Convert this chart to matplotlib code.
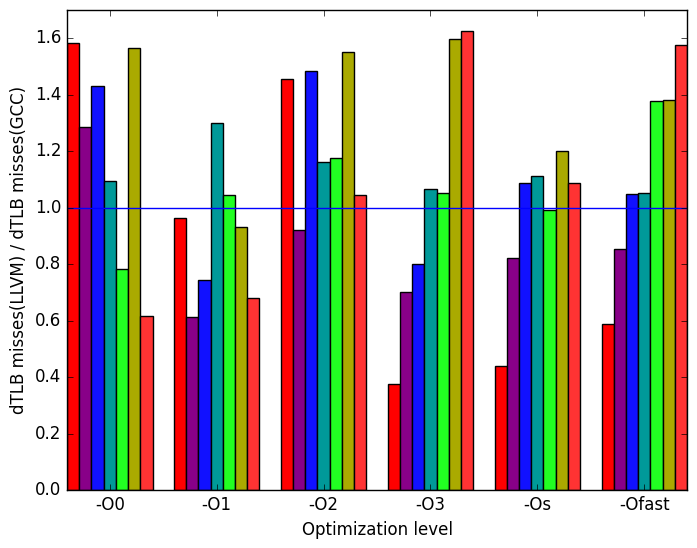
import numpy as np
import matplotlib
matplotlib.use('Agg')
import matplotlib.pyplot as plt

plt.style.use('classic')

levels = ['-O0', '-O1', '-O2', '-O3', '-Os', '-Ofast']
colors = ['#ff0000', '#880088', '#1111ff', '#009999', '#22ff22', '#aaaa00', '#ff3333']

# one list per benchmark (bar colour), values per optimization level
ratios = [
    [1.582, 0.962, 1.454, 0.375, 0.439, 0.588],
    [1.284, 0.613, 0.922, 0.702, 0.820, 0.852],
    [1.429, 0.744, 1.483, 0.799, 1.086, 1.047],
    [1.096, 1.298, 1.160, 1.067, 1.113, 1.053],
    [0.783, 1.046, 1.177, 1.051, 0.993, 1.376],
    [1.567, 0.930, 1.552, 1.596, 1.202, 1.381],
    [0.617, 0.680, 1.046, 1.625, 1.089, 1.576],
]

ind = np.arange(len(levels))
width = 0.8 / len(ratios)

fig = plt.figure(figsize=(6.97, 5.48), dpi=100, facecolor='white')
ax = fig.add_subplot(111)
fig.subplots_adjust(left=0.0961, right=0.9857, top=0.9818, bottom=0.1058)

for i, vals in enumerate(ratios):
    ax.bar(ind - 0.4 + i * width, vals, width, align='edge',
           color=colors[i], edgecolor='black', linewidth=1)

ax.axhline(1.0, color='blue', linewidth=1)

ax.set_xlim(-0.4, 5.4)
ax.set_ylim(0, 1.7)
ax.set_yticks(np.arange(0, 1.61, 0.2))
ax.set_xticks(ind)
ax.set_xticklabels(levels)
ax.set_xlabel('Optimization level')
ax.set_ylabel('dTLB misses(LLVM) / dTLB misses(GCC)')

fig.savefig('out.png', dpi=100, facecolor='white')
